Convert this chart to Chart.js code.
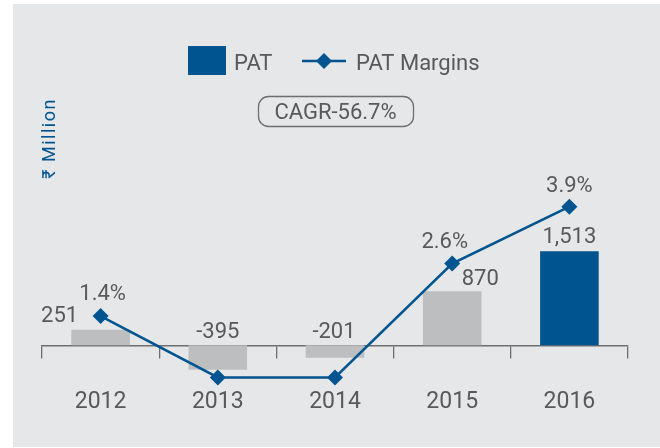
<!DOCTYPE html>
<html>
<head>
<meta charset="utf-8">
<script src="https://cdn.jsdelivr.net/npm/chart.js@4.4.1/dist/chart.umd.min.js"></script>
<style>
  html, body { margin: 0; padding: 0; background: #fff; }
  #wrap { position: relative; width: 660px; height: 448px; }
  #panel { position: absolute; left: 13px; top: 4px; right: 0; bottom: 1px; background: #e6e7e8; }
  canvas { position: absolute; left: 0; top: 0; }
</style>
</head>
<body>
<div id="wrap">
  <div id="panel"></div>
  <canvas id="patChart" width="660" height="448"></canvas>
</div>
<script>
// ============================
// DATA
// ============================
const years = ["2012", "2013", "2014", "2015", "2016"];
const patValues = [251, -395, -201, 870, 1513];      // ₹ Million
const patMargins = [1.4, 0, 0, 2.6, 3.9];             // %, 2013/14 sit on the floor, unlabelled
const cagrText = "CAGR-56.7%";
const unitText = "₹ Million";

// ============================
// STYLE
// ============================
const BLUE = "#00548f";
const GREY_BAR = "#bdbec0";
const TEXT = "#58595b";
const AXIS = "#6d6e71";
const FONT_FAMILY = "Roboto, 'DejaVu Sans', sans-serif";
const font = (size, weight = 400) => `${weight} ${size}px ${FONT_FAMILY}`;

const barColors = patValues.map((v, i) => (i === patValues.length - 1 ? BLUE : GREY_BAR));

// label nudges [dx, dy] from the bar top (or zero line) / the marker
const barLabelOffset = [[-41, -15.5], [0, -15.5], [-1, -15.5], [28, -14], [0, -16.5]];
const marginLabelOffset = [[2, -23.5], [0, -23], [0, -23], [-7.5, -23], [0, -22.5]];

// draw text centred vertically on the cap height
function capText(ctx, text, x, yCenter, size) {
  ctx.fillText(text, x, yCenter + size * 0.355);
}

const valueLabels = {
  id: "valueLabels",
  afterDatasetsDraw(chart) {
    const ctx = chart.ctx;
    const yScale = chart.scales.y;
    ctx.save();
    ctx.font = font(22);
    ctx.fillStyle = TEXT;
    ctx.textAlign = "center";
    ctx.textBaseline = "alphabetic";

    chart.getDatasetMeta(0).data.forEach((bar, i) => {
      const v = patValues[i];
      const anchorY = yScale.getPixelForValue(Math.max(v, 0));
      const [dx, dy] = barLabelOffset[i];
      capText(ctx, v.toLocaleString("en-US"), bar.x + dx, anchorY + dy, 22);
    });

    chart.getDatasetMeta(1).data.forEach((pt, i) => {
      const v = patMargins[i];
      if (v <= 0) return;
      const [dx, dy] = marginLabelOffset[i];
      capText(ctx, v.toFixed(1) + "%", pt.x + dx, pt.y + dy, 22);
    });
    ctx.restore();
  }
};

const decorations = {
  id: "decorations",
  afterDraw(chart) {
    const ctx = chart.ctx;
    const ds = chart.data.datasets;
    ctx.save();

    // legend - bar swatch
    ctx.fillStyle = BLUE;
    ctx.fillRect(188, 46, 38, 29);
    ctx.fillStyle = TEXT;
    ctx.font = font(22);
    ctx.textAlign = "left";
    capText(ctx, ds[0].label, 234, 62, 22);

    // legend - line with diamond
    ctx.strokeStyle = BLUE;
    ctx.lineWidth = 2.5;
    ctx.beginPath();
    ctx.moveTo(302, 61);
    ctx.lineTo(346, 61);
    ctx.stroke();
    ctx.fillStyle = BLUE;
    ctx.beginPath();
    ctx.moveTo(324, 53);
    ctx.lineTo(332, 61);
    ctx.lineTo(324, 69);
    ctx.lineTo(316, 61);
    ctx.closePath();
    ctx.fill();
    ctx.fillStyle = TEXT;
    capText(ctx, ds[1].label, 356, 62, 22);

    // CAGR pill
    ctx.strokeStyle = AXIS;
    ctx.lineWidth = 1.3;
    ctx.beginPath();
    ctx.roundRect(258.5, 96.5, 155, 30, 10);
    ctx.stroke();
    ctx.textAlign = "center";
    capText(ctx, cagrText, 335.5, 111.5, 22);

    // unit title
    ctx.translate(49, 138.5);
    ctx.rotate(-Math.PI / 2);
    ctx.fillStyle = BLUE;
    ctx.font = font(18);
    ctx.letterSpacing = "1.5px";
    capText(ctx, unitText, 0, 0, 18);
    ctx.restore();
  }
};

// ============================
// CHART
// ============================
const ctx = document.getElementById("patChart").getContext("2d");

new Chart(ctx, {
  type: "bar",
  data: {
    labels: years,
    datasets: [
      {
        label: "PAT",
        data: patValues,
        backgroundColor: barColors,
        borderWidth: 0,
        categoryPercentage: 1,
        barPercentage: 0.5,
        yAxisID: "y",
        order: 2
      },
      {
        type: "line",
        label: "PAT Margins",
        data: patMargins,
        borderColor: BLUE,
        borderWidth: 2.5,
        backgroundColor: BLUE,
        pointStyle: "rectRot",
        pointRadius: 8,
        pointBorderWidth: 0,
        pointBackgroundColor: BLUE,
        tension: 0,
        clip: false,
        yAxisID: "y1",
        order: 1
      }
    ]
  },
  options: {
    responsive: false,
    animation: false,
    layout: { padding: { top: 150, left: 42, right: 32, bottom: 34 } },
    plugins: {
      legend: { display: false },
      tooltip: { enabled: false }
    },
    scales: {
      x: {
        type: "category",
        position: "bottom",
        offset: true,
        grid: { display: false, drawTicks: false },
        border: { display: false },
        ticks: { color: TEXT, font: { family: FONT_FAMILY, size: 23 }, padding: 3 },
        afterFit: (scale) => { scale.height = 28.6; }
      },
      xZero: {
        type: "category",
        axis: "x",
        position: { y: 0 },
        offset: true,
        grid: {
          offset: true,
          drawOnChartArea: false,
          drawTicks: true,
          tickLength: 12,
          color: AXIS,
          lineWidth: 1.3
        },
        border: { color: AXIS, width: 1.5 },
        ticks: { display: false }
      },
      y: { display: false, min: -645, max: 3145 },
      y1: { display: false, min: -0.183, max: 5.194 }
    }
  },
  plugins: [valueLabels, decorations]
});
</script>
</body>
</html>
